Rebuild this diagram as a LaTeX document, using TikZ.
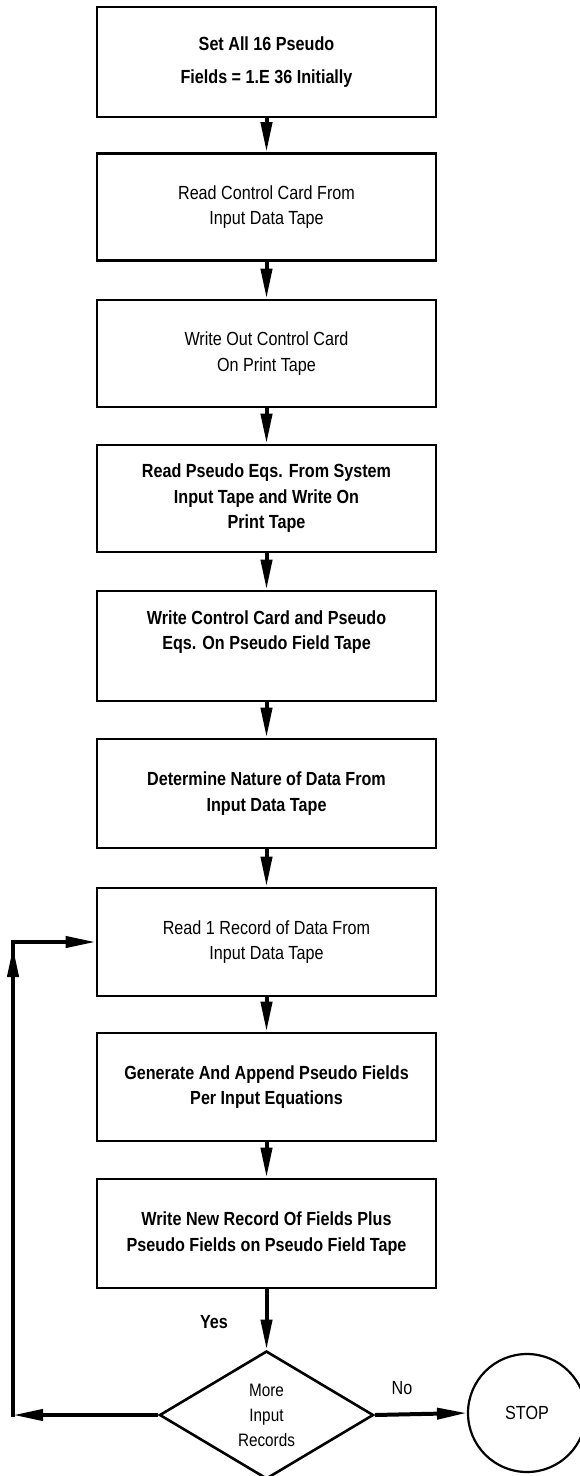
\documentclass[tikz,border=0pt]{standalone}
\usepackage{fontspec}
\setmainfont[FakeStretch=0.85]{Liberation Sans}
\usetikzlibrary{arrows.meta,shapes.geometric}
\begin{document}
\begin{tikzpicture}[x=1pt,y=-1pt,
  box/.style={draw,line width=2.6pt,minimum width=339pt,minimum height=107pt,inner sep=0pt,
    align=center,font=\fontsize{19}{25.5}\selectfont},
  bbox/.style={box,font=\fontsize{19}{25.5}\selectfont\bfseries},
  flow/.style={line width=4pt,-{Triangle[length=30pt,width=11pt]}},
  plain/.style={line width=4pt},
  lbl/.style={font=\fontsize{19}{23}\selectfont\bfseries,inner sep=0pt}]
\useasboundingbox (0,0) rectangle (579,1476);
\node[bbox,minimum height=110pt,font=\fontsize{19}{33}\selectfont\bfseries] (b1) at (266.5,62) {Set All 16 Pseudo\\Fields = 1.E 36 Initially};
\node[box] (b2) at (266.5,207) {Read Control Card From\\Input Data Tape};
\node[box] (b3) at (266.5,353.5) {Write Out Control Card\\On Print Tape};
\node[bbox] (b4) at (266.5,498.5) {Read Pseudo Eqs. From System\\Input Tape and Write On\\Print Tape};
\node[bbox,minimum height=110pt] (b5) at (266.5,646) {Write Control Card and Pseudo\\Eqs. On Pseudo Field Tape\\[6pt]};
\node[bbox,minimum height=109pt] (b6) at (266.5,793.5) {Determine Nature of Data From\\Input Data Tape};
\node[box,minimum height=108pt] (b7) at (266.5,942) {Read 1 Record of Data From\\Input Data Tape};
\node[bbox,minimum height=108pt] (b8) at (266.5,1087) {Generate And Append Pseudo Fields\\Per Input Equations};
\node[bbox,minimum height=109pt] (b9) at (266.5,1233.5) {Write New Record Of Fields Plus\\Pseudo Fields on Pseudo Field Tape};
\node[diamond,draw,line width=2.6pt,minimum width=214pt,minimum height=128pt,aspect=1.7,inner sep=0pt,
  align=center,font=\fontsize{18}{25}\selectfont] (dia) at (266.5,1415) {More\\Input\\Records};
\node[circle,draw,line width=2.2pt,minimum size=118pt,inner sep=0pt,font=\fontsize{19}{23}\selectfont] (stop) at (527,1413) {STOP};
\coordinate (cBL) at (13,1415);
\coordinate (cUp) at (13,947);
\coordinate (cTL) at (cBL |- b7.west);
\draw[flow] (b1) -- (b2);
\draw[flow] (b2) -- (b3);
\draw[flow] (b3) -- (b4);
\draw[flow] (b4) -- (b5);
\draw[flow] (b5) -- (b6);
\draw[flow] (b6) -- (b7);
\draw[flow] (b7) -- (b8);
\draw[flow] (b8) -- (b9);
\draw[flow] (b9) -- (dia);
\draw[flow] (dia.west) -- (cBL);
\draw[plain,line cap=rect] (cBL) -- (cTL);
\draw[flow] (cBL) -- (cUp);
\draw[flow,line cap=rect] (cTL) -- (b7.west);
\draw[flow] (dia.east) -- (stop.west);
\node[lbl] (yes) at (214,1322) {Yes};
\node[lbl,font=\fontsize{19}{23}\selectfont] (no) at (402,1388) {No};
\end{tikzpicture}
\end{document}
